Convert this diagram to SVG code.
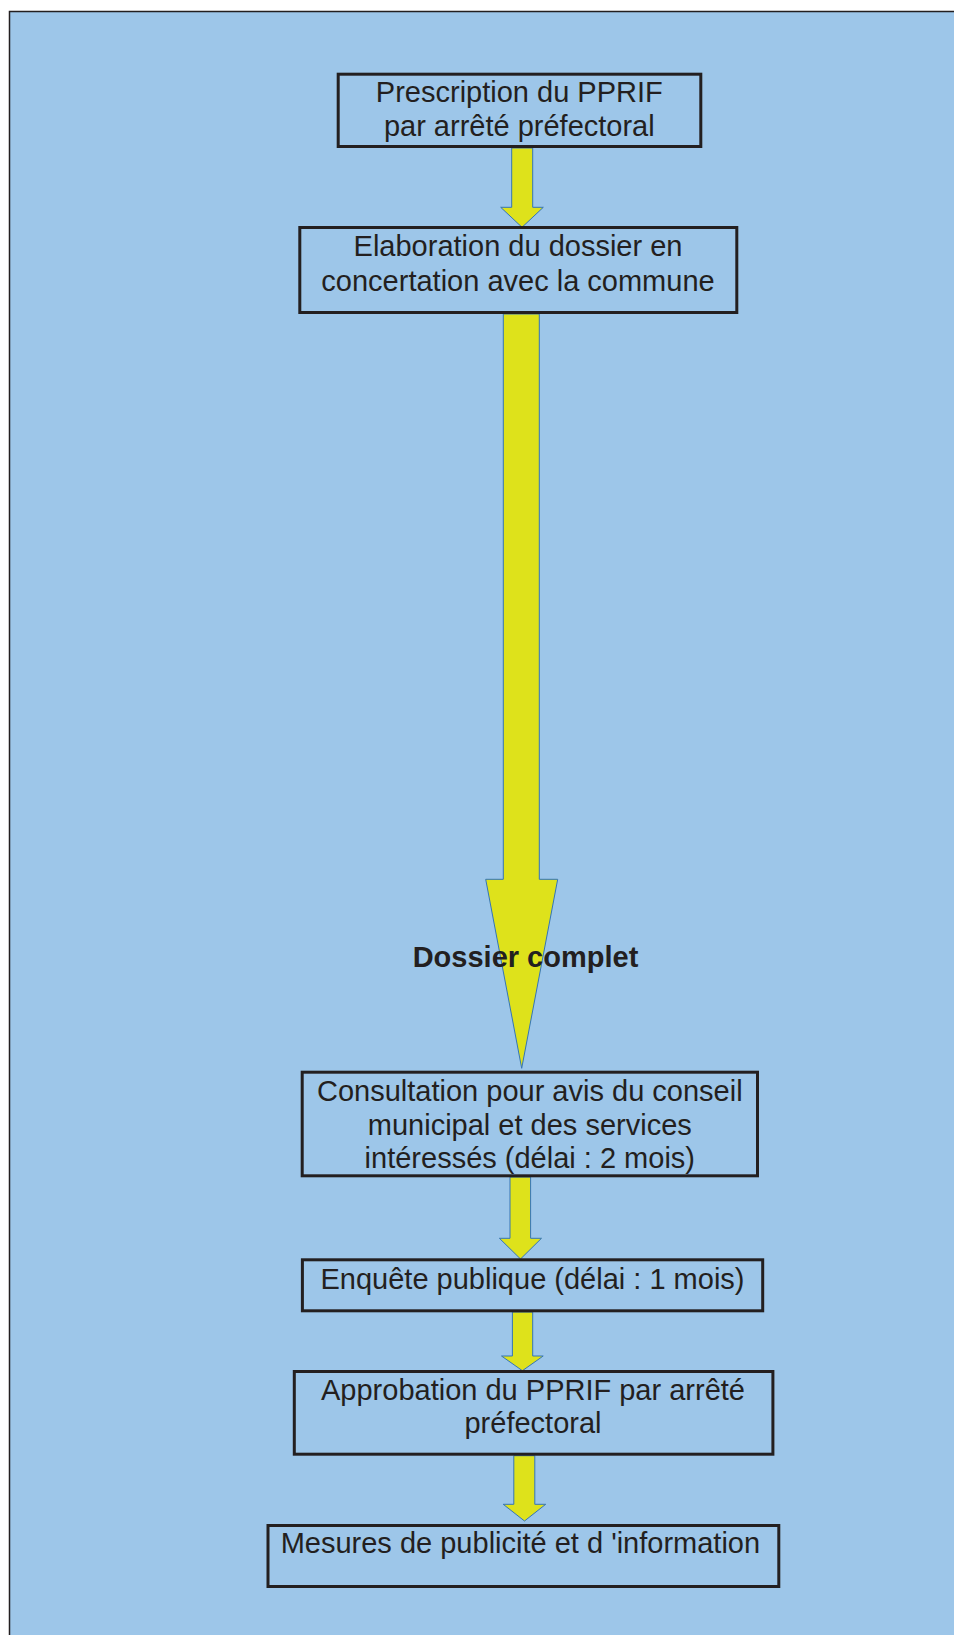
<svg xmlns="http://www.w3.org/2000/svg" width="954" height="1635" viewBox="0 0 954 1635">
<style>
.box{fill:none;stroke:#231f20;stroke-width:3}
.arr{fill:#dee21b;stroke:#3575b5;stroke-width:1}
.t{font-family:"Liberation Sans",Arial,sans-serif;font-size:29px;fill:#231f20;text-anchor:middle}
.b{font-weight:bold}
</style>
<rect x="0" y="0" width="954" height="1635" fill="#ffffff"/>
<rect x="9" y="11" width="945" height="1624" fill="#9dc6e9"/>
<path d="M9.5 1635 V11.5 H954" fill="none" stroke="#231f20" stroke-width="1.5"/>
<g id="connectors">
<polygon class="arr" points="511.7,148 532.7,148 532.7,207.3 543.3,207.3 522,227.3 500.7,207.3 511.7,207.3"/>
<polygon class="arr" points="503.3,314 539.3,314 539.3,879.3 557.7,879.3 521.7,1068.3 485.7,879.3 503.3,879.3"/>
<polygon class="arr" points="510,1177 530.6,1177 530.6,1238.3 541.5,1238.3 520.5,1259 499.4,1238.3 510,1238.3"/>
<polygon class="arr" points="512.4,1312 532.7,1312 532.7,1356 543.2,1356 522.4,1370.7 501.5,1356 512.4,1356"/>
<polygon class="arr" points="513.8,1455.7 534.8,1455.7 534.8,1504.3 545.7,1504.3 524.5,1521 503.2,1504.3 513.8,1504.3"/>
</g>
<g id="n-prescription">
<rect class="box" x="338.2" y="74.2" width="362.6" height="72.3"/>
<text class="t" x="519.3" y="102.3">Prescription du PPRIF</text>
<text class="t" x="519.3" y="136">par arrêté préfectoral</text>
</g>
<g id="n-elaboration">
<rect class="box" x="299.8" y="227.5" width="437" height="85"/>
<text class="t" x="518" y="256">Elaboration du dossier en</text>
<text class="t" x="518" y="290.7">concertation avec la commune</text>
</g>
<g id="l-dossier">
<text class="t b" x="525.5" y="967.3">Dossier complet</text>
</g>
<g id="n-consultation">
<rect class="box" x="302.2" y="1072.2" width="455.3" height="103.6"/>
<text class="t" x="529.8" y="1100.7">Consultation pour avis du conseil</text>
<text class="t" x="529.8" y="1135">municipal et des services</text>
<text class="t" x="529.8" y="1168.3">intéressés (délai : 2 mois)</text>
</g>
<g id="n-enquete">
<rect class="box" x="302.4" y="1259.8" width="460.3" height="51"/>
<text class="t" x="532.5" y="1289.3">Enquête publique (délai : 1 mois)</text>
</g>
<g id="n-approbation">
<rect class="box" x="294.3" y="1371.5" width="478.6" height="82.7"/>
<text class="t" x="533" y="1400">Approbation du PPRIF par arrêté</text>
<text class="t" x="533" y="1433">préfectoral</text>
</g>
<g id="n-mesures">
<rect class="box" x="268" y="1525.5" width="510.8" height="61"/>
<text class="t" x="520.4" y="1553.3">Mesures de publicité et d 'information</text>
</g>
</svg>
